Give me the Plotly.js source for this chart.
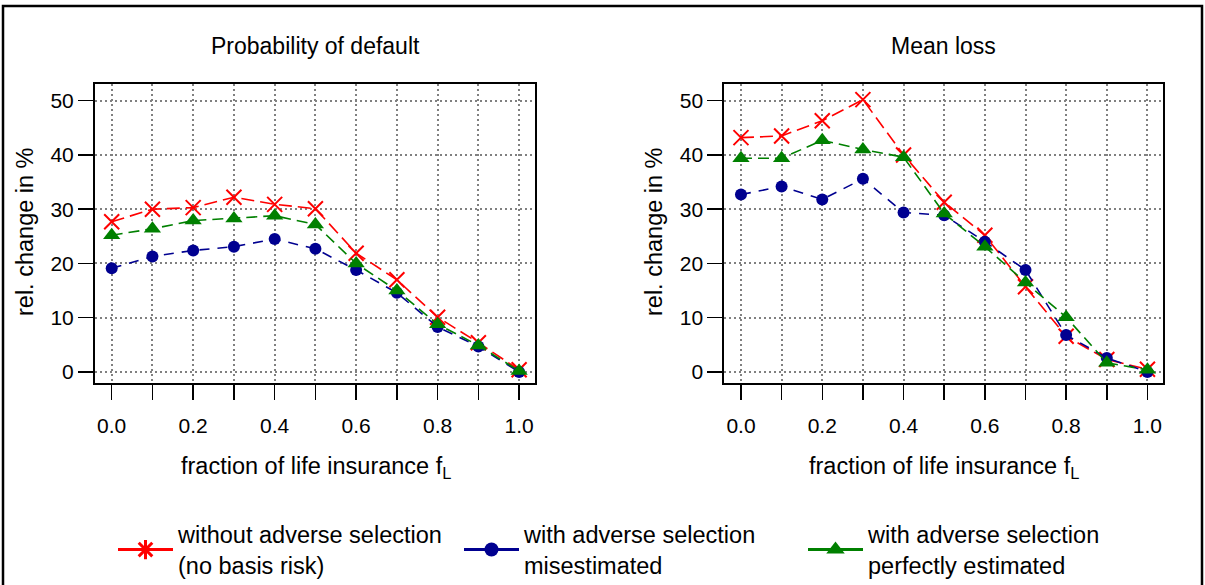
<!DOCTYPE html>
<html>
<head>
<meta charset="utf-8">
<script src="https://cdn.plot.ly/plotly-3.0.1.min.js"></script>
<style>
  html, body { margin: 0; padding: 0; background: #ffffff; }
  #chart { width: 1205px; height: 585px; }
</style>
</head>
<body>
<div id="chart"></div>
<script>
// ---- data ----
const fractions = [0.0, 0.1, 0.2, 0.3, 0.4, 0.5, 0.6, 0.7, 0.8, 0.9, 1.0];
const xTickVals = [0.0, 0.2, 0.4, 0.6, 0.8, 1.0];
const xTickLabels = ['0.0', '0.2', '0.4', '0.6', '0.8', '1.0'];
const yTickVals = [0, 10, 20, 30, 40, 50];

const seriesNames = [
  'without adverse selection<br>(no basis risk)',
  'with adverse selection<br>misestimated',
  'with adverse selection<br>perfectly estimated'
];

// Probability of default (rel. change in %)
const pdWithout   = [27.7, 30.0, 30.3, 32.2, 30.9, 30.1, 21.9, 17.0, 10.1, 5.4, 0.4];
const pdMisest    = [19.1, 21.3, 22.4, 23.1, 24.5, 22.7, 18.8, 14.6, 8.3, 4.7, 0.0];
const pdPerfect   = [25.2, 26.4, 27.9, 28.3, 28.8, 27.2, 20.0, 15.0, 8.8, 4.9, 0.2];

// Mean loss (rel. change in %)
const mlWithout   = [43.2, 43.5, 46.3, 50.2, 40.0, 31.3, 25.2, 15.7, 6.6, 2.3, 0.5];
const mlMisest    = [32.7, 34.2, 31.8, 35.6, 29.4, 28.9, 24.0, 18.8, 6.8, 2.6, 0.0];
const mlPerfect   = [39.4, 39.4, 42.7, 41.0, 39.6, 29.2, 23.1, 16.5, 10.1, 1.7, 0.4];

const panelTitles = ['Probability of default', 'Mean loss'];
const xTitle = 'fraction of life insurance f<sub>L</sub>';
const yTitle = 'rel. change in %';

// ---- styles ----
const FONT = 'Liberation Sans, Arial, Helvetica, sans-serif';
const styles = [
  {color: '#ff0000', symbol: 'x-thin-open', size: 15, mline: 2, dash: '13px,6px'},
  {color: '#000090', symbol: 'circle', size: 12, mline: 0, dash: '10px,8px'},
  {color: '#008000', symbol: 'triangle-up', size: 15, mline: 0, dash: '11px,6px'}
];

function mk(y, i, xa, ya) {
  const s = styles[i];
  return {
    type: 'scatter', mode: 'lines+markers',
    x: fractions, y: y, xaxis: xa, yaxis: ya,
    name: seriesNames[i], showlegend: false,
    line: {color: s.color, width: 1.6, dash: s.dash},
    marker: {symbol: s.symbol, size: s.size, color: s.color,
             line: {color: s.color, width: s.mline}},
    hoverinfo: 'skip'
  };
}
// key entries (solid, thicker key line as in the reference key); no data of their own
function key(i, legendId) {
  const s = styles[i];
  return {
    type: 'scatter', mode: 'lines+markers', x: [null], y: [null],
    name: seriesNames[i], legend: legendId, showlegend: true,
    line: {color: s.color, width: 3},
    marker: {symbol: i === 0 ? 'asterisk-open' : s.symbol, size: i === 0 ? 16 : s.size + 2,
             color: s.color, line: {color: s.color, width: i === 0 ? 3 : 0}},
    hoverinfo: 'skip'
  };
}

const traces = [
  mk(pdWithout, 0, 'x', 'y'),
  mk(pdMisest, 1, 'x', 'y'),
  mk(pdPerfect, 2, 'x', 'y'),
  mk(mlWithout, 0, 'x2', 'y2'),
  mk(mlMisest, 1, 'x2', 'y2'),
  mk(mlPerfect, 2, 'x2', 'y2'),
  key(0, 'legend'), key(1, 'legend2'), key(2, 'legend3')
];

const GRID = {gridcolor: '#808080', gridwidth: 2, griddash: '2px,3px'};
function xax(domain, anchor) {
  return Object.assign({
    domain: domain, range: [-0.041, 1.039], anchor: anchor,
    tickmode: 'array', tickvals: xTickVals, ticktext: xTickLabels,
    ticks: 'outside', ticklen: 15, tickwidth: 1.5, tickcolor: '#000',
    ticklabelstandoff: 8,
    minor: Object.assign({tickmode: 'array', tickvals: fractions, ticks: 'outside', ticklen: 15,
            tickwidth: 1.5, tickcolor: '#000', showgrid: true}, GRID),
    showline: true, mirror: true, linecolor: '#000', linewidth: 2,
    showgrid: true, zeroline: false,
    tickfont: {family: FONT, size: 21, color: '#000'}
  }, GRID);
}
function yax(domain, anchor) {
  return Object.assign({
    domain: domain, range: [-2.03, 53.08], anchor: anchor,
    tickmode: 'array', tickvals: yTickVals,
    ticks: 'outside', ticklen: 15, tickwidth: 1.5, tickcolor: '#000',
    showline: true, mirror: true, linecolor: '#000', linewidth: 2,
    showgrid: true, zeroline: false,
    tickfont: {family: FONT, size: 21, color: '#000'}
  }, GRID);
}

const W = 1205, H = 585;
function px(x) { return x / W; }
function py(y) { return 1 - y / H; }
const yDom = [1 - 383 / H, 1 - 84 / H];

function legendAt(xpx) {
  return {
    x: px(xpx), y: py(550), xanchor: 'left', yanchor: 'middle',
    orientation: 'v', bgcolor: 'rgba(0,0,0,0)', borderwidth: 0,
    font: {family: FONT, size: 23.5, color: '#000'}, itemwidth: 55,
    tracegroupgap: 0
  };
}

const titleFont = {family: FONT, size: 23, color: '#000'};
const axFont = {family: FONT, size: 23.5, color: '#000'};
function ann(text, x, y, font, angle) {
  return {text: text, x: px(x), y: py(y), xref: 'paper', yref: 'paper', showarrow: false,
          xanchor: 'center', yanchor: 'middle', textangle: angle || 0, font: font};
}
const annotations = [
  ann(panelTitles[0], 315, 46, titleFont),
  ann(panelTitles[1], 943, 46, titleFont),
  ann(xTitle, 316, 467, axFont),
  ann(xTitle, 944, 467, axFont),
  ann(yTitle, 25, 232, axFont, -90),
  ann(yTitle, 654, 232, axFont, -90)
];

const layout = {
  width: W, height: H,
  margin: {l: 0, r: 0, t: 0, b: 0, autoexpand: false},
  paper_bgcolor: '#ffffff', plot_bgcolor: '#ffffff',
  font: {family: FONT, color: '#000'},
  xaxis: xax([95 / W, 535 / W], 'y'),
  yaxis: yax(yDom, 'x'),
  xaxis2: xax([724.3 / W, 1163.3 / W], 'y2'),
  yaxis2: yax(yDom, 'x2'),
  showlegend: true,
  legend: legendAt(113),
  legend2: legendAt(459),
  legend3: legendAt(803),
  annotations: annotations,
  shapes: [
    {type: 'rect', xref: 'paper', yref: 'paper', x0: px(3), x1: px(1202), y0: -0.05, y1: py(6),
     line: {color: '#000', width: 2.5}, fillcolor: 'rgba(0,0,0,0)', layer: 'below'}
  ]
};

Plotly.newPlot('chart', traces, layout, {displayModeBar: false, staticPlot: true});
</script>
</body>
</html>
